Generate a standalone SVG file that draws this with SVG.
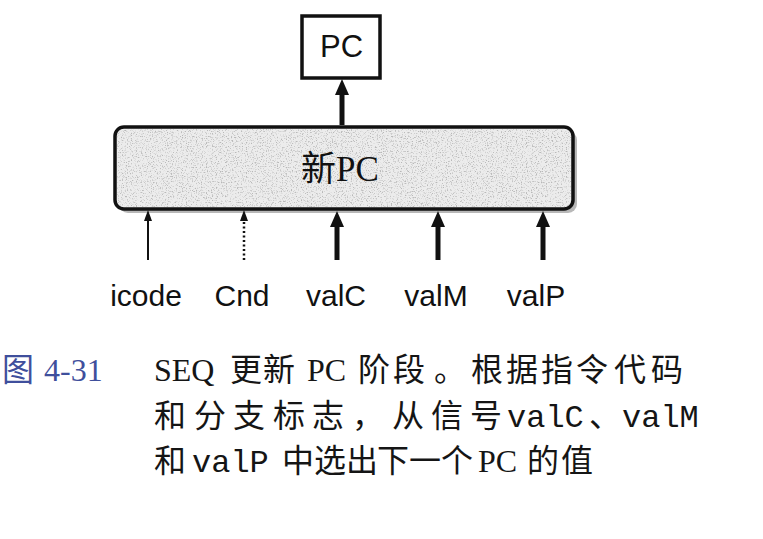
<svg xmlns="http://www.w3.org/2000/svg" width="763" height="539" viewBox="0 0 763 539">
  <style>
    .box { fill: #ffffff; stroke: #111; stroke-width: 3.5; }
    .block { fill: #ececec; stroke: #111; stroke-width: 3.5; }
    .shadow { fill: #9a9a9a; opacity: 0.7; }
    .sans { font-family: "Liberation Sans", Arial, sans-serif; fill: #111; }
    .serif { font-family: "Liberation Serif", "Noto Sans CJK SC", serif; fill: #111; }
    .cap { font-family: "Liberation Serif", "Noto Sans CJK SC", serif; font-size: 32px; fill: #151515; }
    .mono { font-family: "Liberation Mono", "Courier New", monospace; font-size: 32px; }
    .blue { fill: #3f4f9c; }
    .thin { stroke: #111; stroke-width: 2; fill: none; }
    .dot { stroke: #111; stroke-width: 2.5; stroke-dasharray: 2 2.5; fill: none; }
    .thick { stroke: #111; stroke-width: 5; fill: none; }
  </style>
  <defs>
    <marker id="ahThick" viewBox="0 0 16 14" refX="2" refY="7" markerWidth="16" markerHeight="14" markerUnits="userSpaceOnUse" orient="auto">
      <path d="M0,0 L16,7 L0,14 z" fill="#111"/>
    </marker>
    <marker id="ahThin" viewBox="0 0 11 8" refX="1" refY="4" markerWidth="11" markerHeight="8" markerUnits="userSpaceOnUse" orient="auto">
      <path d="M0,0 L11,4 L0,8 z" fill="#111"/>
    </marker>
    <filter id="speckle" x="0" y="0" width="100%" height="100%">
      <feTurbulence type="fractalNoise" baseFrequency="0.8" numOctaves="2" seed="3" result="n"/>
      <feColorMatrix in="n" type="matrix" values="0 0 0 0 0.45  0 0 0 0 0.45  0 0 0 0 0.45  0 0 0 -4 1.9" result="s"/>
      <feComposite in="s" in2="SourceGraphic" operator="in"/>
    </filter>
  </defs>
  <rect width="763" height="539" fill="#ffffff"/>

  <g id="pc">
    <rect class="box" x="302" y="16" width="78" height="62"/>
    <text class="sans" x="341.5" y="57" font-size="31" text-anchor="middle">PC</text>
  </g>

  <g id="newpc">
    <rect class="shadow" x="119" y="131" width="458" height="82" rx="9"/>
    <rect class="block" x="115" y="127" width="458" height="82" rx="9"/>
    <rect x="117" y="129" width="454" height="78" rx="8" fill="#ffffff" filter="url(#speckle)" opacity="0.9"/>
    <text class="serif" x="340" y="181" font-size="35" text-anchor="middle">新PC</text>
  </g>

  <g id="labels">
    <text class="sans" x="146" y="306" font-size="30" text-anchor="middle">icode</text>
    <text class="sans" x="242" y="306" font-size="30" text-anchor="middle">Cnd</text>
    <text class="sans" x="336" y="306" font-size="30" text-anchor="middle">valC</text>
    <text class="sans" x="436" y="306" font-size="30" text-anchor="middle">valM</text>
    <text class="sans" x="536" y="306" font-size="30" text-anchor="middle">valP</text>
  </g>

  <g id="connectors">
    <line class="thick" x1="342" y1="125" x2="342" y2="93" marker-end="url(#ahThick)"/>
    <line class="thin" x1="148" y1="260" x2="148" y2="220" marker-end="url(#ahThin)"/>
    <line class="dot" x1="244" y1="260" x2="244" y2="220" marker-end="url(#ahThin)"/>
    <line class="thick" x1="337" y1="260" x2="337" y2="225" marker-end="url(#ahThick)"/>
    <line class="thick" x1="438" y1="260" x2="438" y2="225" marker-end="url(#ahThick)"/>
    <line class="thick" x1="543" y1="260" x2="543" y2="225" marker-end="url(#ahThick)"/>
  </g>

  <g id="caption">
    <text class="cap" y="381"><tspan class="blue" x="2">图</tspan><tspan class="blue" x="44">4-31</tspan><tspan x="154">SEQ</tspan><tspan x="230">更</tspan><tspan x="263">新</tspan><tspan x="307">PC</tspan><tspan x="358">阶</tspan><tspan x="393">段</tspan><tspan x="434">。</tspan><tspan x="471">根</tspan><tspan x="506">据</tspan><tspan x="541">指</tspan><tspan x="576">令</tspan><tspan x="614">代</tspan><tspan x="651">码</tspan></text>
    <text class="cap" y="427"><tspan x="154">和</tspan><tspan x="194">分</tspan><tspan x="233">支</tspan><tspan x="273">标</tspan><tspan x="312">志</tspan><tspan x="352">，</tspan><tspan x="392">从</tspan><tspan x="431">信</tspan><tspan x="470">号</tspan><tspan class="mono" x="507">valC</tspan><tspan x="589">、</tspan><tspan class="mono" x="622">valM</tspan></text>
    <text class="cap" y="472"><tspan x="154">和</tspan><tspan class="mono" x="192">valP</tspan><tspan x="282">中</tspan><tspan x="314">选</tspan><tspan x="346">出</tspan><tspan x="377">下</tspan><tspan x="409">一</tspan><tspan x="441">个</tspan><tspan x="478">PC</tspan><tspan x="527">的</tspan><tspan x="561">值</tspan></text>
  </g>
</svg>
